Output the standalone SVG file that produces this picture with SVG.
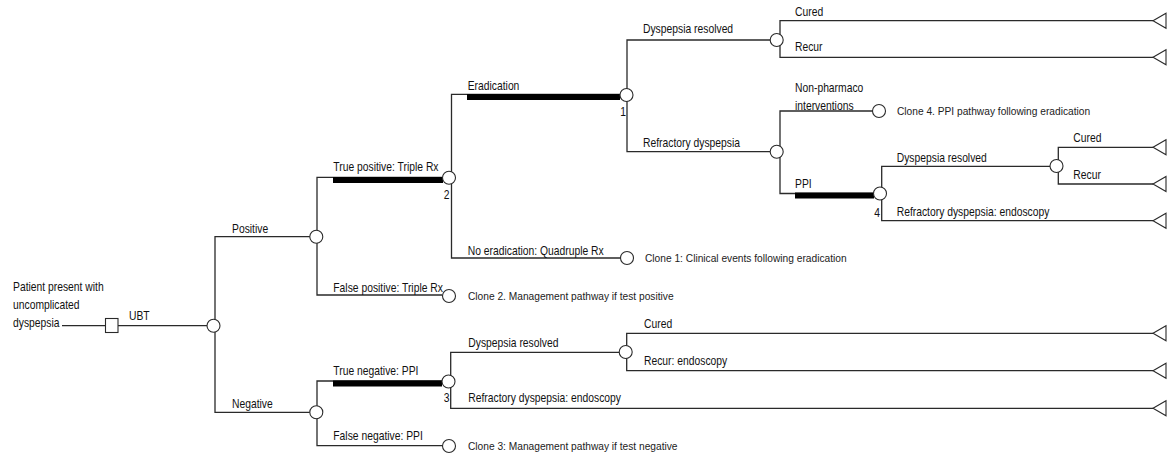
<svg xmlns="http://www.w3.org/2000/svg" width="1175" height="457" viewBox="0 0 1175 457">
<defs>
<style>
.ln{fill:none;stroke:#2a2a2a;stroke-width:1.3}
.bar{fill:#000}
.ch{fill:#fff;stroke:#2a2a2a;stroke-width:1.1}
.tm{fill:#fff;stroke:#2a2a2a;stroke-width:1.1}
.lb{font-family:"Liberation Sans",Arial,sans-serif;font-size:12.6px;fill:#111}
.cl{font-family:"Liberation Sans",Arial,sans-serif;font-size:10.2px;fill:#222}
.num{text-anchor:end}
</style>
<polygon id="tri" class="tm" points="0,0 13,-7.5 13,7.5"/>
</defs>
<rect width="1175" height="457" fill="#fff"/>

<g id="connectors">
<path class="ln" d="M62,325.7H105.5M118,325.7H207"/>
<path class="ln" d="M310,236.7H215V412.3H310"/>
<path class="ln" d="M442.5,177.3H317V295H442.5"/>
<path class="ln" d="M442,381H317V445.7H442.5"/>
<path class="ln" d="M620,94.3H451.5V258H620.5"/>
<path class="ln" d="M770,40H627V151.7H770"/>
<path class="ln" d="M1153,20.7H780V57.3H1153"/>
<path class="ln" d="M872.5,111H780V193.5H873.5"/>
<path class="ln" d="M1050,166.3H881.7V220.7H1153"/>
<path class="ln" d="M1153,147.3H1058.3V184H1153"/>
<path class="ln" d="M619.2,352.3H450.7V408.3H1153"/>
<path class="ln" d="M1153,333.3H626.7V370.7H1153"/>
<rect class="bar" x="333" y="177" width="110" height="6"/>
<rect class="bar" x="467" y="94" width="153" height="6"/>
<rect class="bar" x="795" y="192.5" width="79" height="6"/>
<rect class="bar" x="333" y="380.5" width="109" height="6"/>
</g>

<g id="branch-labels">
<text class="lb" transform="matrix(0.82,0,0,1,129,319.5)">UBT</text>
<text class="lb" transform="matrix(0.82,0,0,1,232,233.3)">Positive</text>
<text class="lb" transform="matrix(0.82,0,0,1,232,408.3)">Negative</text>
<text class="lb" transform="matrix(0.82,0,0,1,333.3,171)">True positive: Triple Rx</text>
<text class="lb" transform="matrix(0.82,0,0,1,333.3,291.7)">False positive: Triple Rx</text>
<text class="lb" transform="matrix(0.82,0,0,1,333.3,375)">True negative: PPI</text>
<text class="lb" transform="matrix(0.82,0,0,1,333.3,440)">False negative: PPI</text>
<text class="lb" transform="matrix(0.82,0,0,1,467.7,90)">Eradication</text>
<text class="lb" transform="matrix(0.82,0,0,1,467.7,255)">No eradication: Quadruple Rx</text>
<text class="lb" transform="matrix(0.82,0,0,1,643,33.3)">Dyspepsia resolved</text>
<text class="lb" transform="matrix(0.82,0,0,1,643,146.7)">Refractory dyspepsia</text>
<text class="lb" transform="matrix(0.82,0,0,1,795,16)">Cured</text>
<text class="lb" transform="matrix(0.82,0,0,1,795,50.7)">Recur</text>
<text class="lb" transform="matrix(0.82,0,0,1,795,91.7)">Non-pharmaco</text>
<text class="lb" transform="matrix(0.82,0,0,1,795,109.5)">interventions</text>
<text class="lb" transform="matrix(0.82,0,0,1,795,188.3)">PPI</text>
<text class="lb" transform="matrix(0.82,0,0,1,896.7,161.7)">Dyspepsia resolved</text>
<text class="lb" transform="matrix(0.82,0,0,1,896.7,215.7)">Refractory dyspepsia: endoscopy</text>
<text class="lb" transform="matrix(0.82,0,0,1,1073.3,141.7)">Cured</text>
<text class="lb" transform="matrix(0.82,0,0,1,1073.3,179.3)">Recur</text>
<text class="lb" transform="matrix(0.82,0,0,1,468.3,347.3)">Dyspepsia resolved</text>
<text class="lb" transform="matrix(0.82,0,0,1,468.3,402.3)">Refractory dyspepsia: endoscopy</text>
<text class="lb" transform="matrix(0.82,0,0,1,644,328.3)">Cured</text>
<text class="lb" transform="matrix(0.82,0,0,1,644,365)">Recur: endoscopy</text>
</g>

<g id="root">
<text class="lb" transform="matrix(0.82,0,0,1,13,291)">Patient present with</text>
<text class="lb" transform="matrix(0.82,0,0,1,13,309.3)">uncomplicated</text>
<text class="lb" transform="matrix(0.82,0,0,1,13,326.7)">dyspepsia</text>
</g>
<g id="decision-ubt"><rect class="ch" x="105.5" y="318.5" width="12.5" height="14"/></g>
<g id="chance-test"><circle class="ch" cx="213.5" cy="325.7" r="6.5"/></g>
<g id="chance-positive"><circle class="ch" cx="316.3" cy="236.7" r="6.5"/></g>
<g id="chance-negative"><circle class="ch" cx="316.3" cy="412.3" r="6.5"/></g>
<g id="chance-2"><circle class="ch" cx="449" cy="177.8" r="6.5"/><text class="lb num" transform="matrix(0.82,0,0,1,449.5,198.5)">2</text></g>
<g id="chance-1"><circle class="ch" cx="626.5" cy="95" r="6.5"/><text class="lb num" transform="matrix(0.82,0,0,1,626,116)">1</text></g>
<g id="chance-3"><circle class="ch" cx="448.5" cy="381.5" r="6.5"/><text class="lb num" transform="matrix(0.82,0,0,1,449.5,402)">3</text></g>
<g id="chance-4"><circle class="ch" cx="880" cy="193.5" r="6.5"/><text class="lb num" transform="matrix(0.82,0,0,1,880,216.5)">4</text></g>
<g id="chance-resolved-1"><circle class="ch" cx="776.7" cy="40" r="6.5"/></g>
<g id="chance-refractory-1"><circle class="ch" cx="776.7" cy="151.7" r="6.5"/></g>
<g id="chance-resolved-4"><circle class="ch" cx="1056.5" cy="166" r="6.5"/></g>
<g id="chance-resolved-3"><circle class="ch" cx="625.7" cy="352" r="6.5"/></g>

<g id="clone-1"><circle class="ch" cx="627" cy="258" r="6.5"/><text class="cl" x="645" y="262">Clone 1: Clinical events following eradication</text></g>
<g id="clone-2"><circle class="ch" cx="449" cy="296" r="6.5"/><text class="cl" x="468" y="300">Clone 2. Management pathway if test positive</text></g>
<g id="clone-3"><circle class="ch" cx="449" cy="446" r="6.5"/><text class="cl" x="468" y="450">Clone 3: Management pathway if test negative</text></g>
<g id="clone-4"><circle class="ch" cx="879" cy="111" r="6.5"/><text class="cl" x="897" y="115">Clone 4. PPI pathway following eradication</text></g>

<g id="terminal-1"><use href="#tri" x="1153" y="20.7"/></g>
<g id="terminal-2"><use href="#tri" x="1153" y="57.3"/></g>
<g id="terminal-3"><use href="#tri" x="1153" y="147.3"/></g>
<g id="terminal-4"><use href="#tri" x="1153" y="184"/></g>
<g id="terminal-5"><use href="#tri" x="1153" y="220.7"/></g>
<g id="terminal-6"><use href="#tri" x="1153" y="333.3"/></g>
<g id="terminal-7"><use href="#tri" x="1153" y="370.7"/></g>
<g id="terminal-8"><use href="#tri" x="1153" y="408.3"/></g>
</svg>
